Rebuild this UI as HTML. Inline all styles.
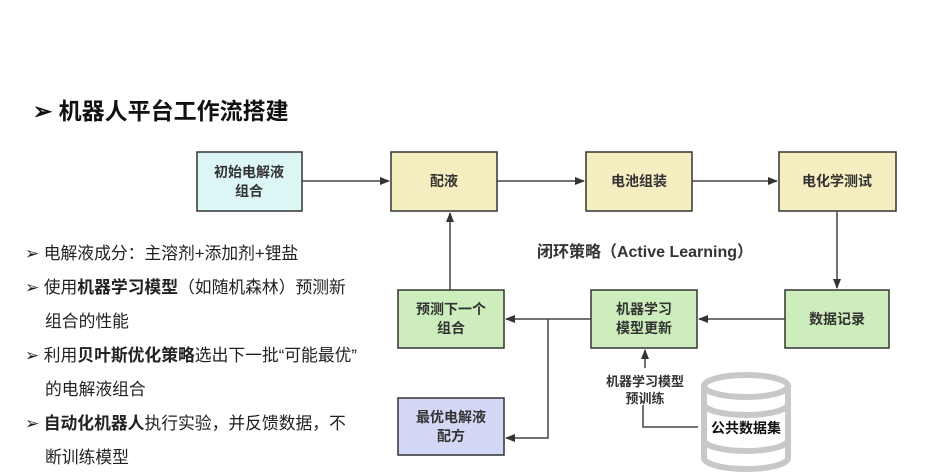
<!DOCTYPE html>
<html><head><meta charset="utf-8"><style>
body{margin:0;width:942px;height:472px;background:#fff;overflow:hidden;font-family:"Liberation Sans","Noto Sans CJK SC",sans-serif;}
.t{position:absolute;left:33px;top:92px;font-size:23px;font-weight:bold;color:#111;}
.l{position:absolute;left:25px;font-size:16.8px;color:#222;white-space:nowrap;}
.l b{font-weight:bold;}
</style></head><body>
<div class="t">➢ 机器人平台工作流搭建</div>
<div class="l" style="top:240px">➢ 电解液成分：主溶剂+添加剂+锂盐</div>
<div class="l" style="top:274px">➢ 使用<b>机器学习模型</b>（如随机森林）预测新</div>
<div class="l" style="top:308px;left:45px">组合的性能</div>
<div class="l" style="top:342px">➢ 利用<b>贝叶斯优化策略</b>选出下一批“可能最优”</div>
<div class="l" style="top:376px;left:45px">的电解液组合</div>
<div class="l" style="top:410px">➢ <b>自动化机器人</b>执行实验，并反馈数据，不</div>
<div class="l" style="top:444px;left:45px">断训练模型</div>
<svg width="942" height="472" style="position:absolute;left:0;top:0" font-family="Liberation Sans,Noto Sans CJK SC,sans-serif" font-weight="bold" font-size="14" text-anchor="middle">
<defs><marker id="a" markerWidth="10" markerHeight="8" refX="9" refY="4" orient="auto" markerUnits="userSpaceOnUse"><path d="M0,0L10,4L0,8z" fill="#333"/></marker></defs>
<g stroke="#333" stroke-width="1.5">
<rect x="197" y="152" width="105" height="59" fill="#dcf5f5"/>
<rect x="391" y="152" width="106" height="59" fill="#f5eec0"/>
<rect x="586" y="152" width="106" height="59" fill="#f5eec0"/>
<rect x="779" y="152" width="117" height="59" fill="#f5eec0"/>
<rect x="785" y="290" width="104" height="58" fill="#cdeebc"/>
<rect x="591" y="290" width="106" height="58" fill="#cdeebc"/>
<rect x="398" y="290" width="106" height="58" fill="#cdeebc"/>
<rect x="398" y="398" width="106" height="57" fill="#d4d8f7"/>
</g>
<g stroke="#444" stroke-width="1.5" fill="none">
<path d="M302,181H389" marker-end="url(#a)"/>
<path d="M497,181H584" marker-end="url(#a)"/>
<path d="M692,181H777" marker-end="url(#a)"/>
<path d="M837,211V288" marker-end="url(#a)"/>
<path d="M785,319H699" marker-end="url(#a)"/>
<path d="M591,319H506" marker-end="url(#a)"/>
<path d="M450,290V213" marker-end="url(#a)"/>
<path d="M548,319V438H506" marker-end="url(#a)"/>
<path d="M645,368V350" marker-end="url(#a)"/>
<path d="M643,405V427H698"/>
</g>
<g fill="none" stroke="#c8c8c8" stroke-width="6">
<path d="M704,386V458"/><path d="M788,386V458"/>
<ellipse cx="746" cy="386" rx="42" ry="11"/>
<path d="M704,404A42,11 0 0 0 788,404"/>
<path d="M704,440A42,11 0 0 0 788,440"/>
<path d="M704,458A42,11 0 0 0 788,458"/>
</g>
<rect x="708" y="418" width="76" height="20" fill="#fff"/>
<g fill="#333">
<text x="249" y="177">初始电解液</text><text x="249" y="196">组合</text>
<text x="444" y="186">配液</text>
<text x="639" y="186">电池组装</text>
<text x="837" y="186">电化学测试</text>
<text x="837" y="324">数据记录</text>
<text x="644" y="314">机器学习</text><text x="644" y="333">模型更新</text>
<text x="451" y="314">预测下一个</text><text x="451" y="333">组合</text>
<text x="451" y="422">最优电解液</text><text x="451" y="441">配方</text>
<text x="645" y="257" font-size="16">闭环策略（Active Learning）</text>
<text x="645" y="386" font-size="13">机器学习模型</text><text x="645" y="403" font-size="13">预训练</text>
<text x="746" y="433" fill="#111">公共数据集</text>
</g>
</svg>
</body></html>
